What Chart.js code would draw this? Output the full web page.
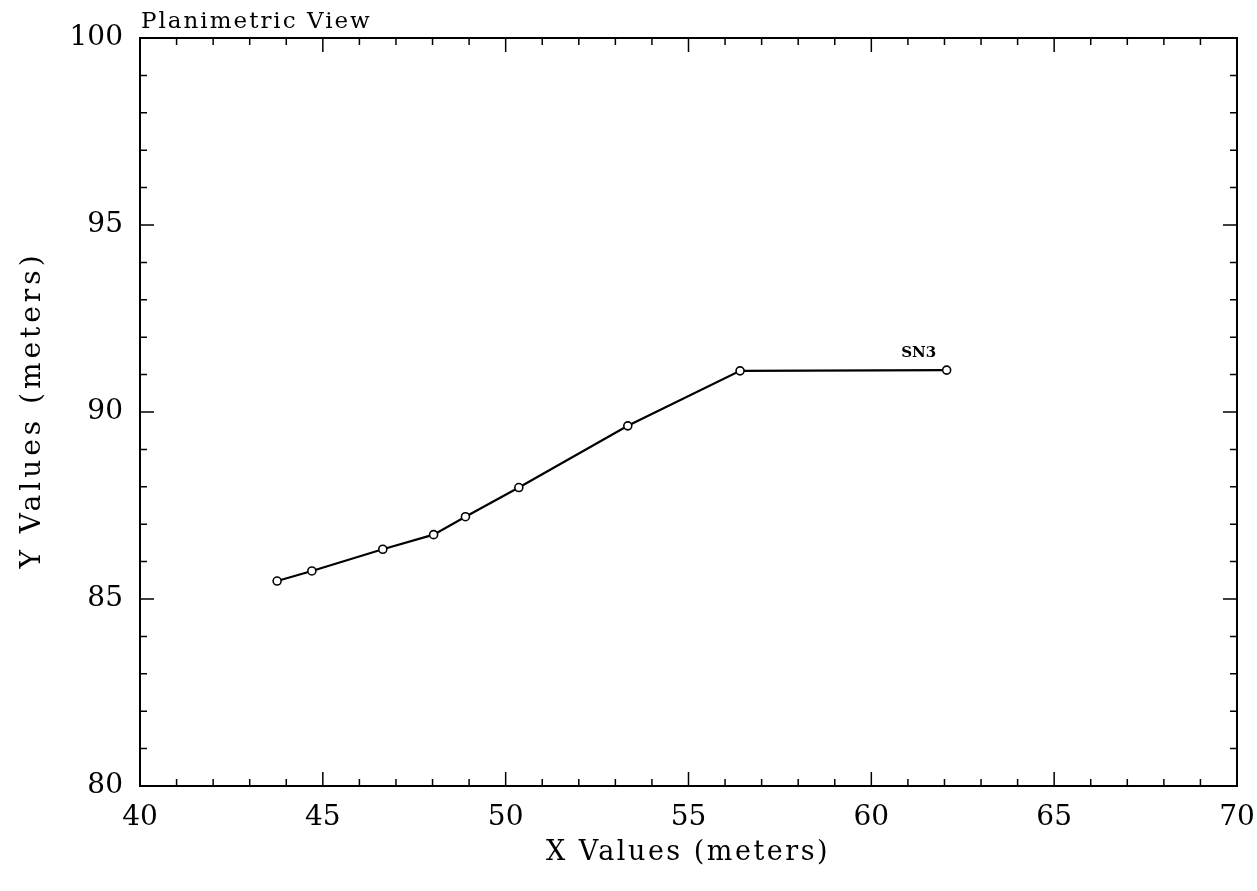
<!DOCTYPE html>
<html>
<head>
<meta charset="utf-8">
<script src="https://cdn.jsdelivr.net/npm/chart.js@4"></script>
<style>
  html, body { margin: 0; padding: 0; background: #fff; }
  #wrap { width: 1257px; height: 891px; }
</style>
</head>
<body>
<div id="wrap"><canvas id="planChart" width="1257" height="891"></canvas></div>
<script>
// values
const xValues = [43.75, 44.70, 46.64, 48.03, 48.90, 50.36, 53.34, 56.41, 62.06];
const yValues = [85.48, 85.75, 86.33, 86.72, 87.20, 87.98, 89.63, 91.10, 91.12];
const stationLabel = "SN3";
const xTicks = [40, 45, 50, 55, 60, 65, 70];
const yTicks = [80, 85, 90, 95, 100];
const plotTitle = "Planimetric View";
const xTitle = "X Values (meters)";
const yTitle = "Y Values (meters)";

const serif = "'DejaVu Serif', serif";

// frame, inward ticks on all four sides, titles and station label
const framePlugin = {
  id: "frame",
  afterDraw(chart) {
    const c = chart.ctx;
    const a = chart.chartArea;
    const xs = chart.scales.x, ys = chart.scales.y;
    c.save();
    c.strokeStyle = "#000";
    c.lineWidth = 2;
    c.strokeRect(a.left, a.top, a.right - a.left, a.bottom - a.top);
    c.lineWidth = 1.5;
    c.beginPath();
    for (let v = xs.min; v <= xs.max; v++) {
      const len = v % 5 === 0 ? 14 : 7;
      const px = xs.getPixelForValue(v);
      c.moveTo(px, a.bottom); c.lineTo(px, a.bottom - len);
      c.moveTo(px, a.top); c.lineTo(px, a.top + len);
    }
    for (let v = ys.min; v <= ys.max; v++) {
      const len = v % 5 === 0 ? 14 : 7;
      const py = ys.getPixelForValue(v);
      c.moveTo(a.left, py); c.lineTo(a.left + len, py);
      c.moveTo(a.right, py); c.lineTo(a.right - len, py);
    }
    c.stroke();

    c.fillStyle = "#000";
    c.letterSpacing = "2px";
    c.font = "23px " + serif;
    c.textAlign = "left";
    c.textBaseline = "bottom";
    c.fillText(plotTitle, a.left + 1, a.top - 4);

    c.letterSpacing = "2.5px";
    c.font = "27px " + serif;
    c.textAlign = "center";
    c.textBaseline = "alphabetic";
    c.fillText(xTitle, 688, 860);

    c.save();
    c.translate(40, 410);
    c.rotate(-Math.PI / 2);
    c.letterSpacing = "4px";
    c.font = "28px " + serif;
    c.fillText(yTitle, 0, 0);
    c.restore();

    c.letterSpacing = "0px";
    const last = xValues.length - 1;
    c.font = "bold 15px " + serif;
    c.textAlign = "center";
    c.textBaseline = "middle";
    c.fillText(stationLabel, xs.getPixelForValue(xValues[last]) - 28, ys.getPixelForValue(yValues[last]) - 17);
    c.restore();
  }
};

document.addEventListener("DOMContentLoaded", function () {
  const ctx = document.getElementById("planChart").getContext("2d");
  new Chart(ctx, {
    type: "scatter",
    data: {
      datasets: [{
        label: stationLabel,
        data: xValues.map((x, i) => ({ x: x, y: yValues[i] })),
        showLine: true,
        borderColor: "#000",
        borderWidth: 2.2,
        pointRadius: 4,
        pointBorderWidth: 1.6,
        pointBackgroundColor: "#fff",
        pointBorderColor: "#000"
      }]
    },
    options: {
      responsive: false,
      animation: false,
      layout: { padding: { top: 38, right: 20, left: 0, bottom: 0 } },
      plugins: { legend: { display: false }, tooltip: { enabled: false } },
      scales: {
        x: {
          type: "linear",
          min: 40, max: 70,
          afterBuildTicks: s => { s.ticks = xTicks.map(v => ({ value: v })); },
          afterFit: s => { s.height = 105; s.paddingLeft = 0; s.paddingRight = 0; },
          grid: { display: false },
          border: { display: false },
          ticks: { color: "#000", font: { family: serif, size: 28 }, padding: 7 }
        },
        y: {
          type: "linear",
          min: 80, max: 100,
          afterBuildTicks: s => { s.ticks = yTicks.map(v => ({ value: v })); },
          afterFit: s => { s.width = 140; s.paddingTop = 0; s.paddingBottom = 0; },
          grid: { display: false },
          border: { display: false },
          ticks: { color: "#000", font: { family: serif, size: 28 }, padding: 9 }
        }
      }
    },
    plugins: [framePlugin]
  });
});
</script>
</body>
</html>
